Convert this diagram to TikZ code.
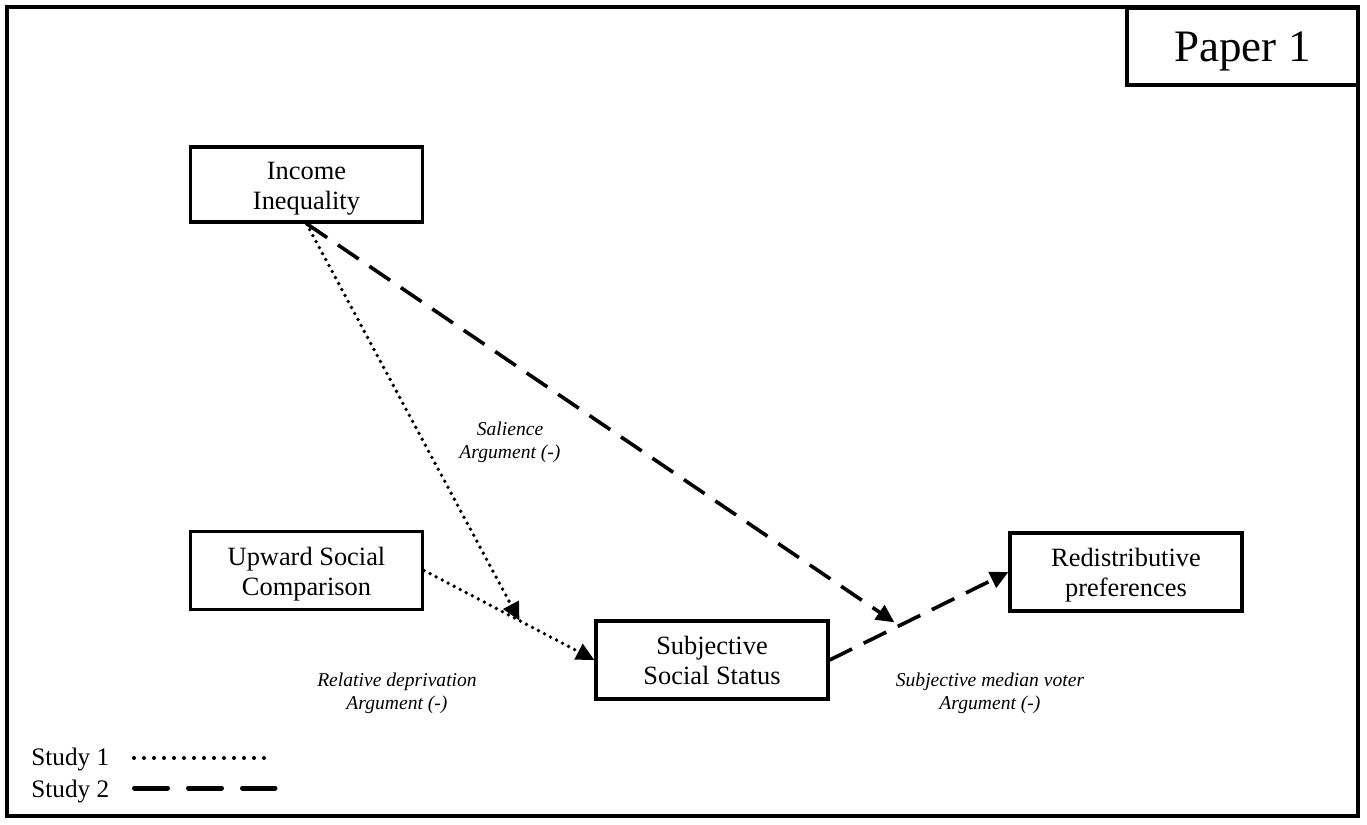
\documentclass[tikz,border=0pt]{standalone}
\usepackage{fontspec}
\setmainfont{Liberation Serif}
\usetikzlibrary{arrows.meta, positioning}

\begin{document}
\begin{tikzpicture}[x=0.5pt, y=-0.5pt, >={Triangle[length=9pt, width=8.5pt]},
  var/.style={draw, line width=1.6pt, minimum width=116pt, minimum height=39pt,
    inner sep=0pt, align=center, text height=26pt, text depth=1.5pt,
    font=\fontsize{13.2}{15}\selectfont},
  arg/.style={align=center, font=\fontsize{9.8}{11.5}\selectfont\itshape},
  legend/.style={anchor=west, inner sep=0pt, font=\fontsize{12.6}{14}\selectfont},
  study1/.style={line width=1.9pt, line cap=round, dash pattern=on 0pt off 3.4pt},
  study2/.style={line width=1.8pt, dash pattern=on 12.5pt off 6.5pt}]
  \useasboundingbox (0,0) rectangle (1367,825);
  \draw[line width=1.8pt] (7,7) rectangle (1358,816);
  % title box
  \node[draw, line width=1.6pt, minimum width=115.5pt, minimum height=38.5pt,
    text depth=0pt, font=\fontsize{22.5}{26}\selectfont] (paper) at (1242.5,46.5) {Paper 1};
  % variables
  \node[var, minimum height=37.5pt] (ineq) at (306.5,184.5) {Income\\Inequality};
  \node[var] (upward) at (306.5,570.5) {Upward Social\\Comparison};
  \node[var] (sss)    at (712,660)     {Subjective\\Social Status};
  \node[var] (redist) at (1126,572)    {Redistributive\\preferences};
  % points where the moderating arrows meet the paths
  \path (upward.east) -- (sss.west) coordinate[pos=0.56] (rdhit);
  \path (sss.east) -- (redist.west) coordinate[pos=0.39] (smhit);
  % study 1 (dotted)
  \draw[study1, ->] (upward.east) -- (sss.west);
  \draw[study1, ->] (ineq.south) -- (rdhit);
  % study 2 (dashed)
  \draw[study2, ->] (sss.east) -- (redist.west);
  \draw[study2, ->, shorten >=3pt] (ineq.south) -- (smhit);
  % arguments
  \node[arg] (salience) at (510,442) {Salience\\Argument (-)};
  \node[arg] (reldep)   at (397,693) {Relative deprivation\\Argument (-)};
  \node[arg] (medvoter) at (990,693) {Subjective median voter\\Argument (-)};
  % legend
  \node[legend] (leg1) at (31,759) {Study 1};
  \node[legend] (leg2) at (31,791) {Study 2};
  \coordinate (leg1a) at (134,758);
  \coordinate (leg1b) at (266,758);
  \coordinate (leg2a) at (134.5,788);
  \coordinate (leg2b) at (275,788);
  \draw[line width=2pt, line cap=round, dash pattern=on 0pt off 5pt] (leg1a) -- (leg1b);
  \draw[line width=2.5pt, line cap=round, dash pattern=on 16.5pt off 10.5pt] (leg2a) -- (leg2b);
\end{tikzpicture}
\end{document}
